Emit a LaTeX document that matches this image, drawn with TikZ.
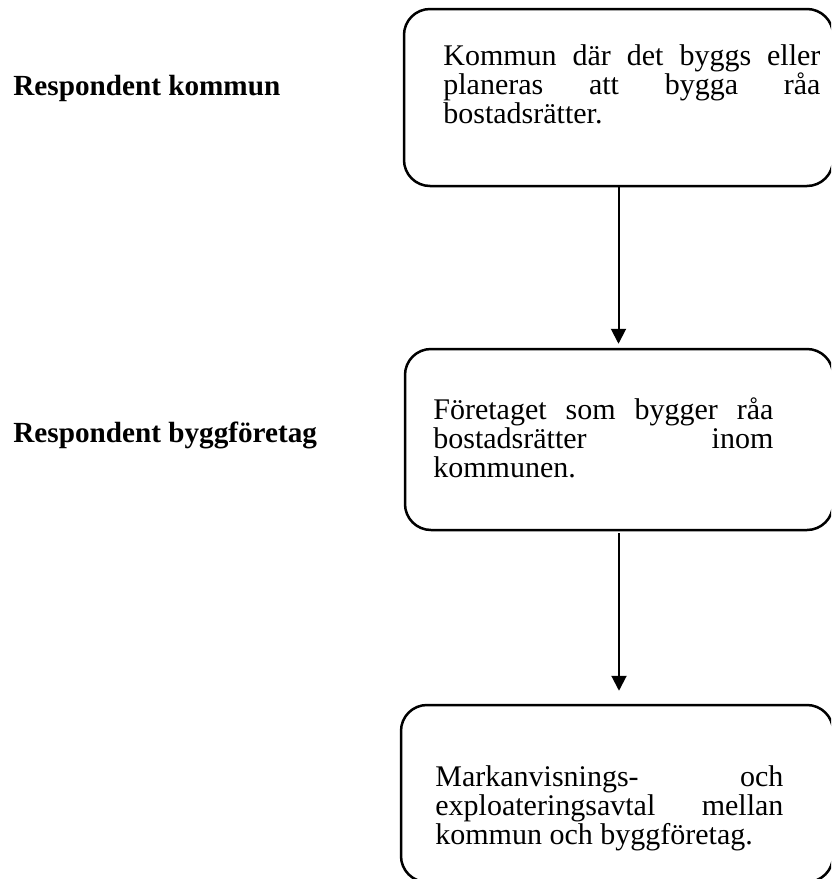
\documentclass[tikz,border=0pt]{standalone}
\usepackage{fontspec}
\setmainfont{Liberation Serif}
\usepackage{tikz}
\usetikzlibrary{arrows.meta,positioning,calc}
\definecolor{ink}{HTML}{000000}
\hyphenpenalty=10000
\exhyphenpenalty=10000
\tolerance=10000

\begin{document}
\begin{tikzpicture}[
  x=0.5pt, y=-0.5pt, line join=round,
  lab/.style={font=\fontsize{14.6pt}{14.6pt}\selectfont\bfseries, text=ink,
              anchor=base west, inner sep=0pt},
  bx/.style={draw=ink, line width=1.25pt, rounded corners=13pt,
             inner sep=0pt},
  txt/.style={font=\fontsize{15pt}{14.5pt}\selectfont, text=ink,
              anchor=north west, align=justify, inner sep=0pt},
  arr/.style={draw=ink, line width=1pt, -{Triangle[width=7.5pt,length=7.5pt]}}]

\def\xl{13}       % left labels

\useasboundingbox (0,0) rectangle (831,879);
\clip (0,0) rectangle (831,879);

% ---------------------------------------------------------------- labels
\node[lab] (lkom) at (\xl,95)  {Respondent kommun};
\node[lab] (lbyg) at (\xl,442) {Respondent byggföretag};

% ---------------------------------------------------------------- boxes
\node[bx, minimum width=214.5pt, minimum height=88.5pt] (b1) at (618.5,97.5) {};
\node[bx, minimum width=214pt,   minimum height=90.5pt] (b2) at (619,439.5) {};
\node[bx, minimum width=216pt,   minimum height=88.5pt] (b3) at (617,793.5) {};

% ---------------------------------------------------------------- texts
\node[txt, text width=188.5pt] (t1) at (443,44.5)
  {Kommun där det byggs eller\linebreak planeras att bygga råa\linebreak
   bostadsrätter.};
\node[txt, text width=170pt] (t2) at (433,397.5)
  {Företaget som bygger råa\linebreak bostadsrätter inom\linebreak
   kommunen.};
\node[txt, text width=174pt] (t3) at (435,765.5)
  {Markanvisnings- och\linebreak exploateringsavtal mellan\linebreak
   kommun och byggföretag.};

% ---------------------------------------------------------------- arrows
\draw[arr, shorten >=2pt] (b1.south) -- (b1.south |- b2.north);
\draw[arr, shorten <=1pt, shorten >=6.5pt] (b2.south) -- (b2.south |- b3.north);

\end{tikzpicture}
\end{document}
